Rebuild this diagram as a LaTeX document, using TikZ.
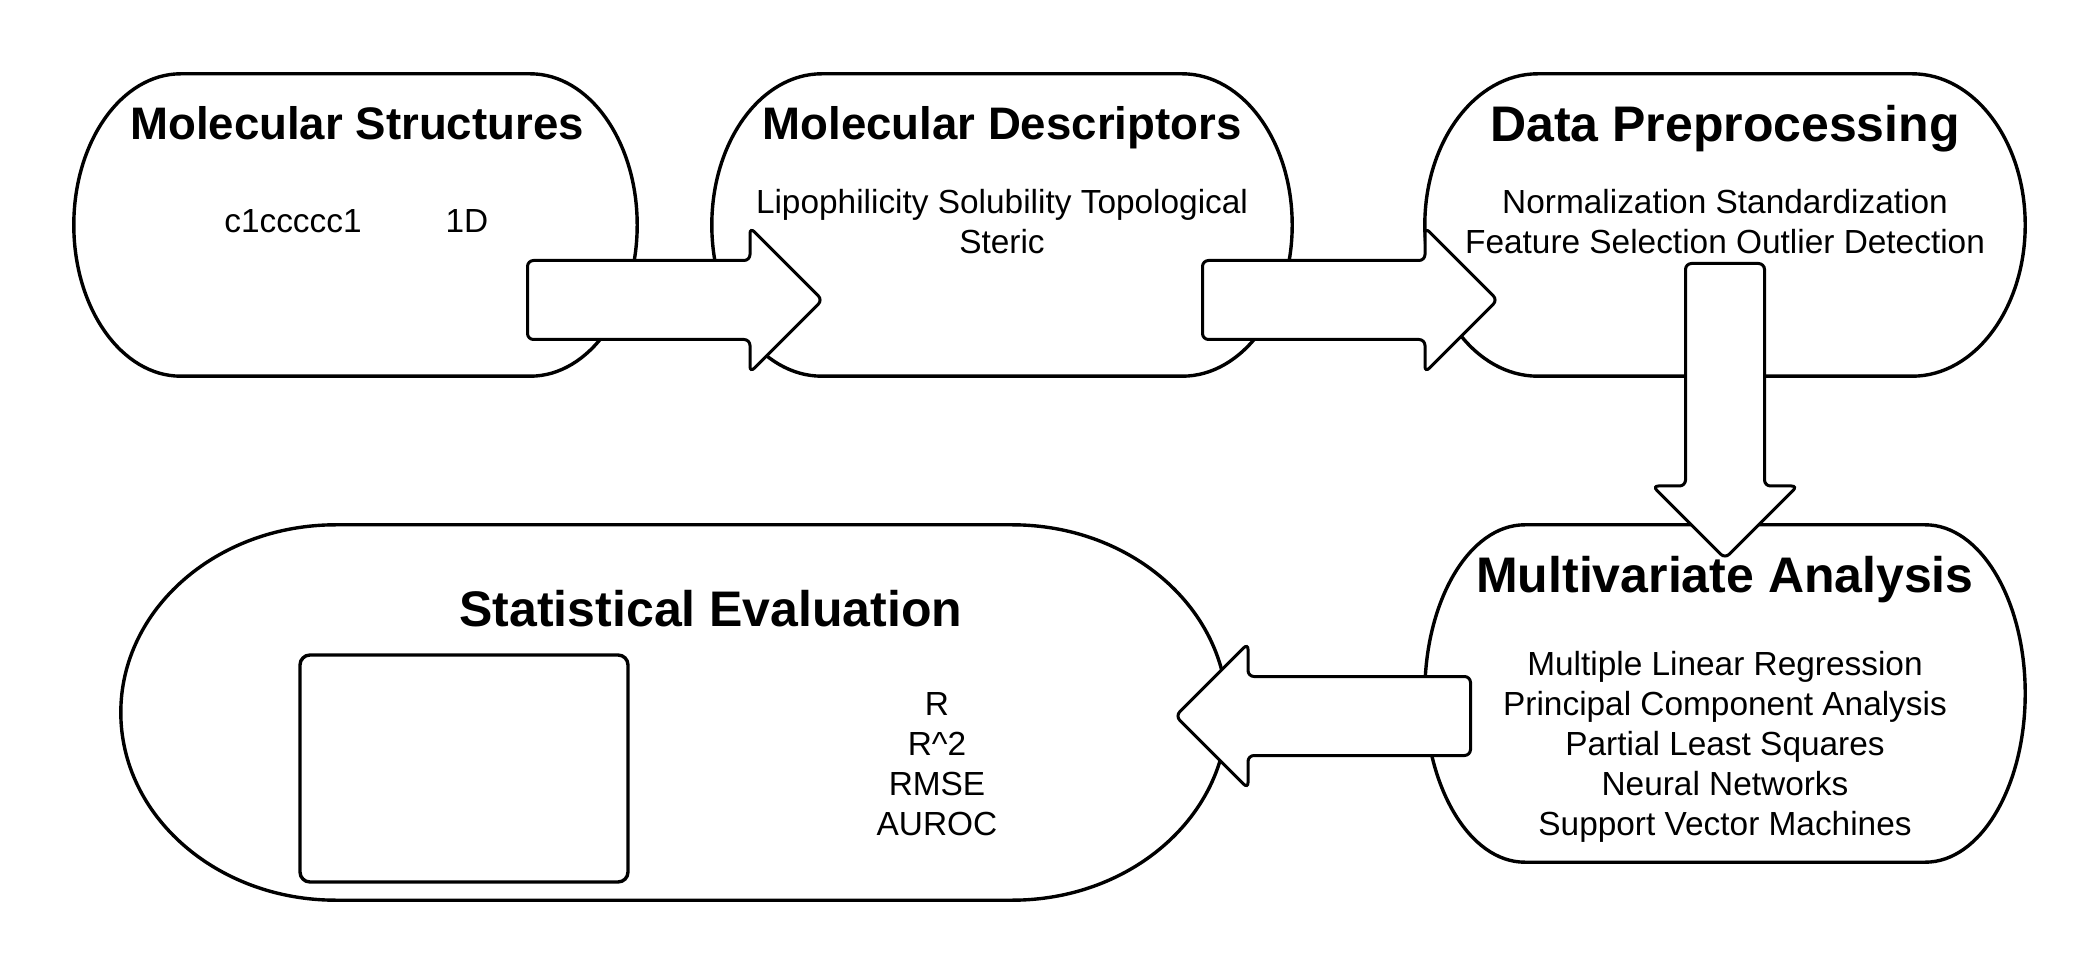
\documentclass[tikz,border=0pt]{standalone}
\usepackage{fontspec}
\setmainfont{Liberation Sans}
\usetikzlibrary{shapes.arrows,calc}

\tikzset{
  boxline/.style={line width=3.4pt, line join=round},
  stage/.style={draw=none, inner sep=0pt},
  blockarrow/.style={single arrow, draw, fill=white, line width=3pt,
    rounded corners=6pt, inner xsep=0pt, inner ysep=38pt, anchor=tail,
    minimum height=295pt, single arrow head extend=33pt},
  bigtitle/.style={font=\bfseries\fontsize{50}{60}\selectfont, anchor=base, inner sep=0pt},
  smalltitle/.style={font=\bfseries\fontsize{45.6}{54}\selectfont, anchor=base, inner sep=0pt},
  bodytext/.style={font=\fontsize{33.4}{40}\selectfont, anchor=base, inner sep=0pt},
}

% outline with elliptic ends round a stage node
\newcommand{\capsule}[2]{%
  \draw[boxline] let \p1=(#1.north west), \p2=(#1.south east),
      \n1={(\y1-\y2)/2} in
    (\x1+#2,\y1) -- (\x2-#2,\y1)
    arc[start angle=90, end angle=-90, x radius=#2pt, y radius=\n1]
    -- (\x1+#2,\y2)
    arc[start angle=270, end angle=90, x radius=#2pt, y radius=\n1] -- cycle;}

\begin{document}
\begin{tikzpicture}[x=1pt, y=1pt]
\useasboundingbox (0,0) rectangle (2100,975);

% stages
\node[stage, minimum width=563pt, minimum height=302pt] (structures) at (355.5,750) {};
\node[stage, minimum width=580pt, minimum height=302pt] (descriptors) at (1002,750) {};
\node[stage, minimum width=600pt, minimum height=302pt] (preprocessing) at (1725,750) {};
\node[stage, minimum width=600pt, minimum height=337pt] (multivariate) at (1725,281.5) {};
\node[stage, minimum width=1106pt, minimum height=375pt] (evaluation) at (674,262.5) {};
\capsule{structures}{107}
\capsule{descriptors}{110}
\capsule{preprocessing}{113}
\capsule{multivariate}{100}
\capsule{evaluation}{215}

% block arrows
\node[blockarrow] (toDescriptors) at (526,675) {};
\node[blockarrow] (toPreprocessing) at (1201,675) {};
\node[blockarrow, rotate=-90] (toMultivariate) at (1725,713) {};
\node[blockarrow, rotate=180] (toEvaluation) at (1472,259) {};

% plot area
\node[draw, line width=3.4pt, rounded corners=10pt, minimum width=328pt,
  minimum height=227pt] (plotarea) at (464,206.5) {};

% texts
\node[smalltitle] (structuresTitle) at (357,835) {Molecular Structures};
\node[bodytext] (smiles) at (293,742) {c1ccccc1};
\node[bodytext] (dimension) at (467,742) {1D};

\node[smalltitle] (descriptorsTitle) at (1002,835) {Molecular Descriptors};
\node[bodytext] (descA) at (1002,761) {Lipophilicity Solubility Topological};
\node[bodytext] (descB) at (1002,721) {Steric};

\node[bigtitle] (preprocessingTitle) at (1725,833) {Data Preprocessing};
\node[bodytext] (prepA) at (1725,761) {Normalization Standardization};
\node[bodytext] (prepB) at (1725,721) {Feature Selection Outlier Detection};

\node[bigtitle] (multivariateTitle) at (1725,382) {Multivariate Analysis};
\foreach \method [count=\i] in {Multiple Linear Regression,
    Principal Component Analysis, Partial Least Squares,
    Neural Networks, Support Vector Machines}
  \node[bodytext] (method\i) at (1725,340-40*\i) {\method};

\node[bigtitle] (evaluationTitle) at (711,348) {Statistical Evaluation};
\foreach \metric [count=\i] in {R, R\textasciicircum2, RMSE, AUROC}
  \node[bodytext] (metric\i) at (937,300-40*\i) {\metric};
\end{tikzpicture}
\end{document}
